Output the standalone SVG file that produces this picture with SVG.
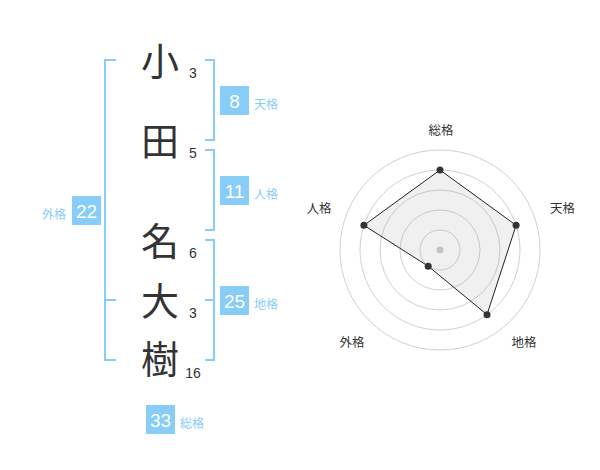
<svg xmlns="http://www.w3.org/2000/svg" width="600" height="470" viewBox="0 0 600 470">
<style>
.kanji{font-family:"Noto Sans CJK JP","Liberation Sans",sans-serif;font-size:38px;fill:#333;text-anchor:middle}
.num{font-family:"Liberation Sans",Arial,sans-serif;font-size:14px;fill:#333;text-anchor:middle}
.br{fill:none;stroke:#88ccf8;stroke-width:2}
.box{fill:#88ccf8}
.bnum{font-family:"Liberation Sans",Arial,sans-serif;font-size:19px;fill:#fff;text-anchor:middle}
.lab{font-family:"Noto Sans CJK JP",sans-serif;font-size:12px;fill:#88ccf8}
.ring{fill:none;stroke:#d0d0d0;stroke-width:1}
.rlab{font-family:"Noto Sans CJK JP",sans-serif;font-size:12.5px;fill:#333;text-anchor:middle}
.pt{fill:#333}
</style>
<rect width="600" height="470" fill="#fff"/>
<g id="connectors">
<path class="br" d="M116,60 H105 V360 H116 M105,300 H116"/>
<path class="br" d="M205,60 H214 V140 H205"/>
<path class="br" d="M205,150 H214 V230 H205"/>
<path class="br" d="M205,240 H214 V360 H205 M205,300 H214"/>
</g>
<g id="char-ko"><text class="kanji" x="160" y="75">小</text><text class="num" x="193" y="78">3</text></g>
<g id="char-ta"><text class="kanji" x="160" y="155">田</text><text class="num" x="193" y="158">5</text></g>
<g id="char-na"><text class="kanji" x="160" y="255">名</text><text class="num" x="193" y="258">6</text></g>
<g id="char-dai"><text class="kanji" x="160" y="315">大</text><text class="num" x="193" y="318">3</text></g>
<g id="char-ju"><text class="kanji" x="160" y="373">樹</text><text class="num" x="193" y="378">16</text></g>
<g id="tenkaku"><rect class="box" x="220" y="86" width="29" height="29"/><text class="bnum" x="234.5" y="107.5">8</text><text class="lab" x="254" y="109">天格</text></g>
<g id="jinkaku"><rect class="box" x="220" y="176" width="29" height="29"/><text class="bnum" x="234.5" y="197.5">11</text><text class="lab" x="254" y="199">人格</text></g>
<g id="chikaku"><rect class="box" x="220" y="286" width="29" height="29"/><text class="bnum" x="234.5" y="307.5">25</text><text class="lab" x="254" y="309">地格</text></g>
<g id="gaikaku"><rect class="box" x="72" y="196" width="29" height="29"/><text class="bnum" x="86.5" y="217.5">22</text><text class="lab" x="66" y="219" text-anchor="end">外格</text></g>
<g id="soukaku"><rect class="box" x="146" y="405" width="29" height="29"/><text class="bnum" x="160.5" y="426.5">33</text><text class="lab" x="180" y="428">総格</text></g>
<g id="radar">
<circle class="ring" cx="440" cy="250" r="100"/>
<circle class="ring" cx="440" cy="250" r="80"/>
<circle class="ring" cx="440" cy="250" r="60"/>
<circle class="ring" cx="440" cy="250" r="40"/>
<circle class="ring" cx="440" cy="250" r="20"/>
<circle cx="440" cy="250" r="3.5" fill="#ccc"/>
<polygon points="440,170 516.1,225.3 487,314.7 428.2,266.2 363.9,225.3" fill="#999" fill-opacity="0.15" stroke="#222" stroke-width="1"/>
<circle class="pt" cx="440" cy="170" r="3.5"/>
<circle class="pt" cx="516.1" cy="225.3" r="3.5"/>
<circle class="pt" cx="487" cy="314.7" r="3.5"/>
<circle class="pt" cx="428.2" cy="266.2" r="3.5"/>
<circle class="pt" cx="363.9" cy="225.3" r="3.5"/>
<text class="rlab" x="441" y="135">総格</text>
<text class="rlab" x="562.5" y="213">天格</text>
<text class="rlab" x="524" y="347">地格</text>
<text class="rlab" x="352" y="347">外格</text>
<text class="rlab" x="319" y="213">人格</text>
</g>
</svg>
